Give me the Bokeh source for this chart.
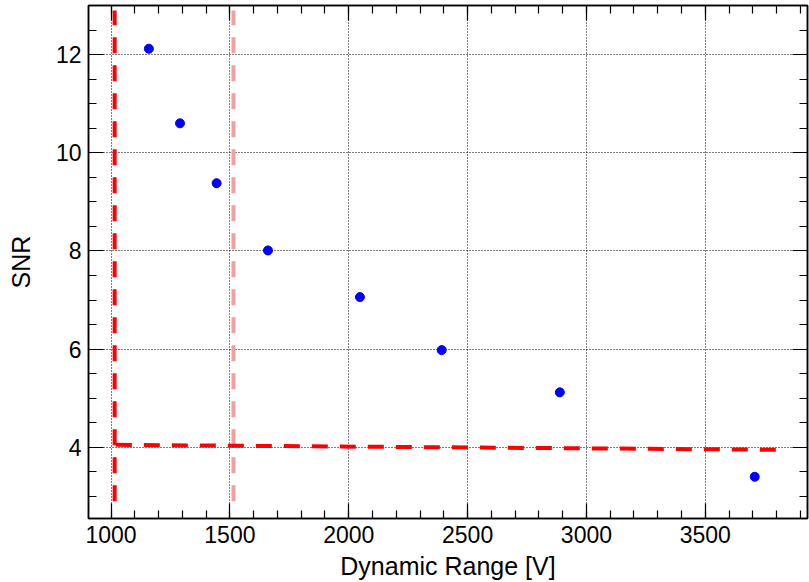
from bokeh.plotting import figure
from bokeh.models import (Range1d, LinearAxis, SingleIntervalTicker, ColumnDataSource,
                          Grid, CustomJSTickFormatter)
from bokeh.embed import file_html
from bokeh.resources import INLINE

# data
dynamic_range = [1159, 1290, 1444, 1660, 2047, 2391, 2888, 3708]
snr = [12.12, 10.60, 9.38, 8.01, 7.06, 5.98, 5.12, 3.40]

# threshold lines
vline_red_x = [1015, 1015]
vline_red_y = [2.9, 12.9]
vline_pink_x = [1515, 1515]
vline_pink_y = [2.9, 12.9]
hline_x = [1020, 3810]
hline_y = [4.05, 3.95]

FONT = "Liberation Sans"

p = figure(width=809, height=582, output_backend="svg", toolbar_location=None,
           x_range=Range1d(905, 3930), y_range=Range1d(2.55, 13.0),
           min_border_left=88, min_border_right=2, min_border_top=5, min_border_bottom=62,
           x_axis_location=None, y_axis_location=None)
p.outline_line_color = "black"
p.outline_line_width = 1.5
p.background_fill_color = "white"
p.border_fill_color = "white"

def style(ax, labels=True):
    ax.major_tick_in = 15
    ax.major_tick_out = 0
    ax.minor_tick_in = 8
    ax.minor_tick_out = 0
    ax.axis_line_color = "black"
    ax.axis_line_width = 1.5
    ax.major_tick_line_color = "black"
    ax.minor_tick_line_color = "black"
    ax.major_tick_line_width = 1.2
    ax.minor_tick_line_width = 1.2
    if labels:
        ax.major_label_text_font = FONT
        ax.major_label_text_font_size = "23px"
        ax.major_label_text_color = "black"
        ax.axis_label_text_font = FONT
        ax.axis_label_text_font_size = "25px"
        ax.axis_label_text_font_style = "normal"
        ax.axis_label_text_color = "black"
    else:
        ax.formatter = CustomJSTickFormatter(code="return '';")
        ax.major_label_standoff = 0
        ax.axis_label_standoff = 0

xt = lambda: SingleIntervalTicker(interval=500, num_minor_ticks=5)
yt = lambda: SingleIntervalTicker(interval=2, num_minor_ticks=4)

xb = LinearAxis(ticker=xt(), axis_label="Dynamic Range [V]")
style(xb)
xb.major_label_standoff = 7
xb.axis_label_standoff = 6
p.add_layout(xb, "below")

yl = LinearAxis(ticker=yt(), axis_label="SNR")
style(yl)
yl.major_label_standoff = 7
yl.axis_label_standoff = 18
p.add_layout(yl, "left")

xa = LinearAxis(ticker=xt())
style(xa, labels=False)
p.add_layout(xa, "above")

yr = LinearAxis(ticker=yt())
style(yr, labels=False)
p.add_layout(yr, "right")

p.xgrid.visible = False
p.ygrid.visible = False
gx = Grid(dimension=0, ticker=xb.ticker, grid_line_color="black", grid_line_dash="1 2", grid_line_width=1)
gy = Grid(dimension=1, ticker=yl.ticker, grid_line_color="black", grid_line_dash="1 2", grid_line_width=1)
p.add_layout(gx)
p.add_layout(gy)

p.line(vline_red_x, vline_red_y, line_color="#ff0000", line_width=4, line_dash="16 12")
p.line(vline_pink_x, vline_pink_y, line_color="#f0a0a0", line_width=4, line_dash="16 12")
p.line(hline_x, hline_y, line_color="#ff0000", line_width=4, line_dash="16 12")

src = ColumnDataSource(dict(x=dynamic_range, y=snr))
p.scatter("x", "y", source=src, size=9, color="#0000ff", line_color="#0000ff")

open("out.html", "w").write(file_html(p, INLINE))
